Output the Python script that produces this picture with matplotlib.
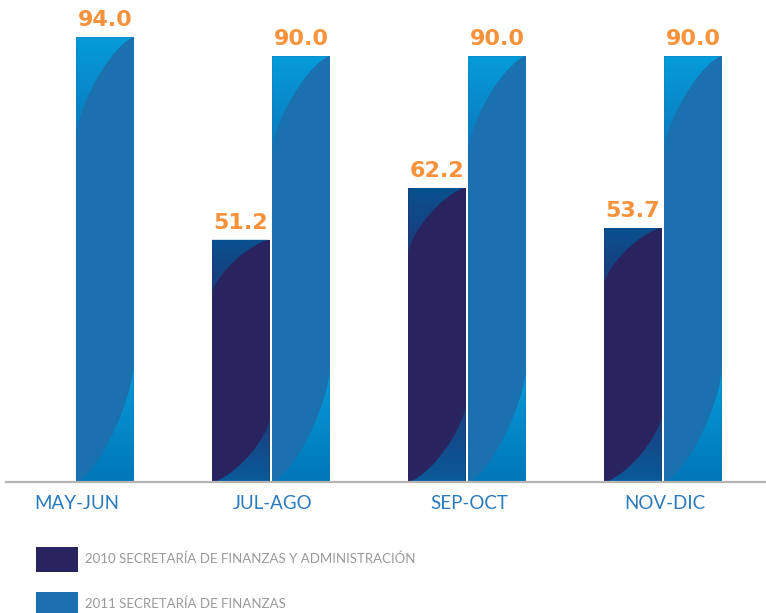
import numpy as np
import matplotlib
matplotlib.use('Agg')
import matplotlib.pyplot as plt
from matplotlib.patches import Polygon
from matplotlib.colors import LinearSegmentedColormap

categories = ['MAY-JUN', 'JUL-AGO', 'SEP-OCT', 'NOV-DIC']
values_2010 = [np.nan, 51.2, 62.2, 53.7]
values_2011 = [94.0, 90.0, 90.0, 90.0]
series_labels = ['2010 SECRETARÍA DE FINANZAS Y ADMINISTRACIÓN', '2011 SECRETARÍA DE FINANZAS']

LABEL_FONT = ['Lato', 'DejaVu Sans']

# main colour, top-left corner (top, bottom), bottom-right corner (top, bottom)
STYLE_2010 = ('#29235f', ('#0a508e', '#1b3b7a'), ('#1a3f7e', '#0a5a99'))
STYLE_2011 = ('#1b70b0', ('#059bd9', '#0c79bd'), ('#079ad8', '#0077b9'))


def superellipse(n=1.4, k=40):
	t = np.linspace(0, np.pi / 2, k)
	return np.cos(t) ** (2.0 / n), np.sin(t) ** (2.0 / n)


def gradient_patch(ax, verts, bbox, c_top, c_bot):
	poly = Polygon(verts, closed=True, transform=ax.transData, facecolor='none', edgecolor='none')
	ax.add_patch(poly)
	cmap = LinearSegmentedColormap.from_list('g', [c_top, c_bot])
	grad = np.linspace(0, 1, 64).reshape(-1, 1)
	im = ax.imshow(grad, cmap=cmap, extent=bbox, aspect='auto', origin='upper', zorder=1.5,
		interpolation='bilinear')
	im.set_clip_path(poly)


def decorate(ax, bars, style):
	for b in bars:
		h = b.get_height()
		if not np.isfinite(h) or h <= 0:
			continue
		x0, w, y0 = b.get_x(), b.get_width(), b.get_y()
		x1, y1 = x0 + w, y0 + h
		c, s = superellipse()
		# top-left corner
		ht = 0.22 * h
		xs = x1 - w * c
		ys = (y1 - ht) + ht * s
		verts = list(zip(xs, ys)) + [(x0, y1)]
		gradient_patch(ax, verts, [x0, x1, y1 - ht, y1], style[1][0], style[1][1])
		# bottom-right corner
		hb = 0.26 * h
		xs = x0 + w * c
		ys = (y0 + hb) - hb * s
		verts = list(zip(xs, ys)) + [(x1, y0)]
		gradient_patch(ax, verts, [x0, x1, y0, y0 + hb], style[2][0], style[2][1])


def main():
	fig = plt.figure(figsize=(7.66, 6.13), dpi=100)
	ax = fig.add_axes([6 / 766, 131 / 613, 760 / 766, 482 / 613])

	x = np.arange(len(categories))
	width = 0.293
	off = 0.153
	b1 = ax.bar(x - off, values_2010, width, color=STYLE_2010[0], label=series_labels[0], zorder=1)
	b2 = ax.bar(x + off, values_2011, width, color=STYLE_2011[0], label=series_labels[1], zorder=1)
	decorate(ax, b1, STYLE_2010)
	decorate(ax, b2, STYLE_2011)

	for bars, vals in ((b1, values_2010), (b2, values_2011)):
		for b, v in zip(bars, vals):
			if np.isnan(v):
				continue
			ax.annotate('%.1f' % v, (b.get_x() + b.get_width() / 2, v), xytext=(0, 5),
				textcoords='offset points', ha='center', va='bottom', color='#f7923a',
				fontsize=16, fontweight='bold', family='DejaVu Sans')

	ax.set_xlim(-0.352, 3.526)
	ax.set_ylim(0, 482 / 4.73)
	for sp in ('top', 'left', 'right'):
		ax.spines[sp].set_visible(False)
	ax.spines['bottom'].set_color('#b5b5b5')
	ax.spines['bottom'].set_linewidth(1.6)
	ax.spines['bottom'].set_zorder(3)
	ax.set_yticks([])
	ax.set_xticks(x + 0.01)
	ax.set_xticklabels(categories, color='#2a7abf', fontsize=13.5, family=LABEL_FONT)
	ax.tick_params(axis='x', length=0, pad=9.5)
	ax.set_facecolor('none')

	fig.legend(handles=[b1, b2], loc='upper left', bbox_to_anchor=(36 / 766, 1 - 547 / 613),
		frameon=False, borderpad=0, borderaxespad=0, handlelength=3.2, handleheight=2.5,
		handletextpad=0.55, labelspacing=1.55, labelcolor='#9a9a9a',
		prop={'family': LABEL_FONT, 'size': 9.5})

	fig.savefig('out.png', dpi=100)


if __name__ == '__main__':
	main()
